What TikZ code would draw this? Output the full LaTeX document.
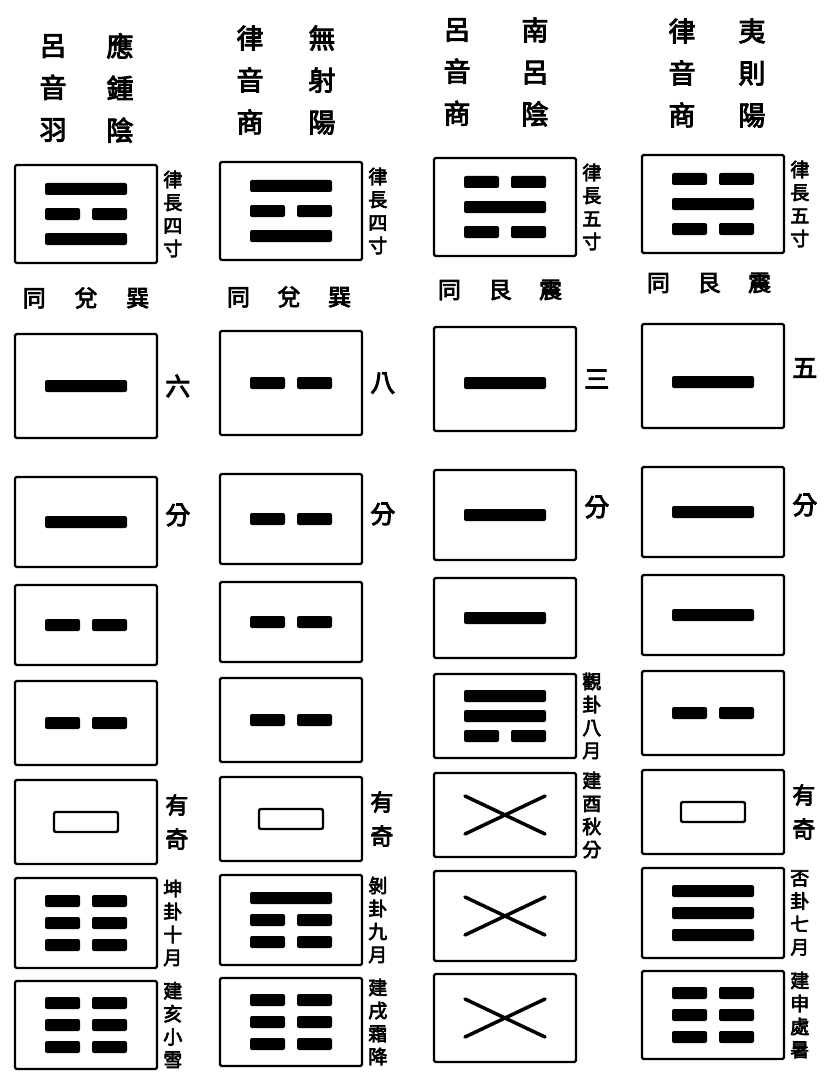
\documentclass[tikz,border=0pt]{standalone}
\usepackage{fontspec}
\newfontfamily\cjk[AutoFakeBold=3.5]{Noto Sans CJK TC}
\usetikzlibrary{positioning}

\newcommand\yang[2]{\fill[bar] (#1) ++(-41,#2-6) rectangle ++(82,12);}
\newcommand\yin[2]{\fill[bar] (#1) ++(-41,#2-6) rectangle ++(35,12); \fill[bar] (#1) ++(6,#2-6) rectangle ++(35,12);}
\newcommand\hollow[1]{\draw[line width=2.4pt, rounded corners=2pt] (#1) ++(-32,-10) rectangle ++(64,20);}
\newcommand\cross[1]{\draw[line width=3.5pt, line cap=round] (#1) ++(-40,-19) -- ++(80,38) (#1) ++(-40,19) -- ++(80,-38);}

\begin{document}
\begin{tikzpicture}[x=1pt,y=-1pt,
  box/.style={draw, line width=2.2pt, rounded corners=1.5pt, minimum width=142pt, minimum height=#1, inner sep=0pt},
  bar/.style={rounded corners=2pt},
  hdr/.style={font=\cjk\bfseries\fontsize{27}{42}\selectfont, align=center, inner sep=0pt},
  tong/.style={font=\cjk\bfseries\fontsize{23}{23}\selectfont, inner sep=0pt},
  side/.style={font=\cjk\bfseries\fontsize{19}{23}\selectfont, align=center, inner sep=0pt, right=5pt of #1},
  pair/.style={font=\cjk\bfseries\fontsize{23}{34}\selectfont, align=center, inner sep=0pt, right=7pt of #1},
  one/.style={font=\cjk\bfseries\fontsize{25}{25}\selectfont, inner sep=0pt, right=7pt of #1}]
  \useasboundingbox[fill=white] (0,0) rectangle (825,1078);
  \foreach \r/\y/\h in {1/209/98, 2/381/104, 3/517/90, 4/620/80, 5/718/84, 6/817/84, 7/918/90, 8/1020/88}
    \foreach \c/\x/\o in {1/86/5, 2/291/2, 3/505/-2, 4/713/-5}
      \node[box=\h pt] (b\r\c) at (\x,\y+\o) {};
  \node[hdr] (h1a) at (53,88) {呂\\音\\羽}; \node[hdr] (h1b) at (120,88) {應\\鍾\\陰};
  \node[hdr] (h2a) at (250,80) {律\\音\\商}; \node[hdr] (h2b) at (322,80) {無\\射\\陽};
  \node[hdr] (h3a) at (457,72) {呂\\音\\商}; \node[hdr] (h3b) at (535,72) {南\\呂\\陰};
  \node[hdr] (h4a) at (682,73) {律\\音\\商}; \node[hdr] (h4b) at (752,73) {夷\\則\\陽};
  \yang{b11}{-25} \yin{b11}{0} \yang{b11}{25} \yang{b12}{-25} \yin{b12}{0} \yang{b12}{25}
  \yin{b13}{-25} \yang{b13}{0} \yin{b13}{25} \yin{b14}{-25} \yang{b14}{0} \yin{b14}{25}
  \node[side=b11] (s11) {律\\長\\四\\寸}; \node[side=b12] (s12) {律\\長\\四\\寸};
  \node[side=b13] (s13) {律\\長\\五\\寸}; \node[side=b14] (s14) {律\\長\\五\\寸};
  \node[tong] (t1) at (86,298) {同\hspace{1.25em}兌\hspace{1.25em}巽}; \node[tong] (t2) at (289,297) {同\hspace{1.2em}兌\hspace{1.2em}巽};
  \node[tong] (t3) at (500,290) {同\hspace{1.2em}艮\hspace{1.2em}震}; \node[tong] (t4) at (709,283) {同\hspace{1.2em}艮\hspace{1.2em}震};
  \yang{b21}{0} \yin{b22}{0} \yang{b23}{4} \yang{b24}{6}
  \node[one=b21] (n21) {六}; \node[one=b22] (n22) {八}; \node[one=b23] (n23) {三}; \node[one=b24, yshift=8pt] (n24) {五};
  \yang{b31}{0} \yin{b32}{0} \yang{b33}{0} \yang{b34}{0}
  \node[one=b31, yshift=7pt] (n31) {分}; \node[one=b32, yshift=5pt] (n32) {分};
  \node[one=b33, yshift=8pt] (n33) {分}; \node[one=b34, yshift=7pt] (n34) {分};
  \yin{b41}{0} \yin{b42}{0} \yang{b43}{0} \yang{b44}{0}
  \yin{b51}{0} \yin{b52}{0} \yang{b53}{-20} \yang{b53}{0} \yin{b53}{20} \yin{b54}{0}
  \node[side=b53] (s53) {觀\\卦\\八\\月};
  \hollow{b61} \hollow{b62} \cross{b63} \hollow{b64}
  \node[pair=b61] (s61) {有\\奇}; \node[pair=b62] (s62) {有\\奇};
  \node[side=b63] (s63) {建\\酉\\秋\\分}; \node[pair=b64] (s64) {有\\奇};
  \yin{b71}{-22} \yin{b71}{0} \yin{b71}{22} \yang{b72}{-22} \yin{b72}{0} \yin{b72}{22}
  \cross{b73} \yang{b74}{-22} \yang{b74}{0} \yang{b74}{22}
  \node[side=b71] (s71) {坤\\卦\\十\\月}; \node[side=b72] (s72) {剝\\卦\\九\\月}; \node[side=b74] (s74) {否\\卦\\七\\月};
  \yin{b81}{-22} \yin{b81}{0} \yin{b81}{22} \yin{b82}{-22} \yin{b82}{0} \yin{b82}{22}
  \cross{b83} \yin{b84}{-22} \yin{b84}{0} \yin{b84}{22}
  \node[side=b81] (s81) {建\\亥\\小\\雪}; \node[side=b82] (s82) {建\\戌\\霜\\降}; \node[side=b84] (s84) {建\\申\\處\\暑};
\end{tikzpicture}
\end{document}
